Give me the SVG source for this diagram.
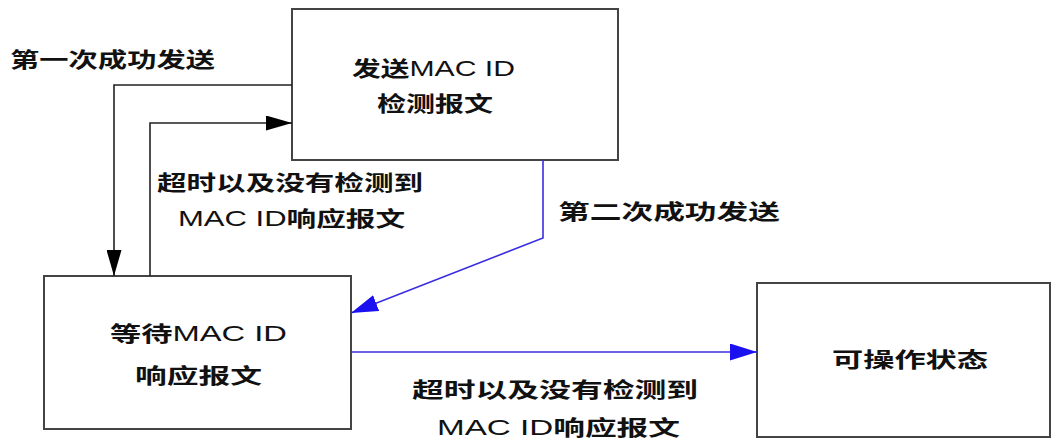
<svg xmlns="http://www.w3.org/2000/svg" width="1054" height="443" viewBox="0 0 1054 443">
<style>
.box{fill:#fff;stroke:#444;stroke-width:2}
.t{font-family:"Liberation Sans","Noto Sans CJK SC",sans-serif;font-size:21px;fill:#111;font-weight:bold}
.m{font-weight:normal;font-size:22px}
.k{fill:none;stroke:#222;stroke-width:1.6}
.b{fill:none;stroke:#3a2ee0;stroke-width:1.6}
</style>
<defs>
<marker id="ak" markerUnits="userSpaceOnUse" markerWidth="26" markerHeight="15" refX="26" refY="7.5" orient="auto"><path d="M0,0 L26,7.5 L0,15 Z" fill="#000"/></marker>
<marker id="ab" markerUnits="userSpaceOnUse" markerWidth="27" markerHeight="17" refX="27" refY="8.5" orient="auto"><path d="M0,0 L27,8.5 L0,17 Z" fill="#1a10f0"/></marker>
</defs>
<rect width="1054" height="443" fill="#fff"/>
<g id="send">
<rect class="box" x="292" y="9" width="326" height="151"/>
<text class="t" x="352" y="76" textLength="163" lengthAdjust="spacingAndGlyphs">发送<tspan class="m">MAC ID</tspan></text>
<text class="t" x="377" y="111" textLength="116" lengthAdjust="spacingAndGlyphs">检测报文</text>
</g>
<g id="wait">
<rect class="box" x="44" y="276" width="307" height="153"/>
<text class="t" x="110" y="341" textLength="177" lengthAdjust="spacingAndGlyphs">等待<tspan class="m">MAC ID</tspan></text>
<text class="t" x="135" y="383" textLength="127" lengthAdjust="spacingAndGlyphs">响应报文</text>
</g>
<g id="operate">
<rect class="box" x="757" y="283" width="293" height="154"/>
<text class="t" x="832" y="367" textLength="156" lengthAdjust="spacingAndGlyphs">可操作状态</text>
</g>
<g id="connectors">
<path class="k" d="M292,85 H114 V276" marker-end="url(#ak)"/>
<path class="k" d="M150,276 V123 H292" marker-end="url(#ak)"/>
<path class="b" d="M543,160 V238 L351,313" marker-end="url(#ab)"/>
<path class="b" d="M351,352 H757" marker-end="url(#ab)"/>
</g>
<g id="labels">
<text class="t" x="10" y="67" textLength="205" lengthAdjust="spacingAndGlyphs">第一次成功发送</text>
<text class="t" x="157" y="190" textLength="266" lengthAdjust="spacingAndGlyphs">超时以及没有检测到</text>
<text class="t" x="178" y="226" textLength="227" lengthAdjust="spacingAndGlyphs"><tspan class="m">MAC ID</tspan>响应报文</text>
<text class="t" x="558" y="219" textLength="222" lengthAdjust="spacingAndGlyphs">第二次成功发送</text>
<text class="t" x="412" y="397" textLength="286" lengthAdjust="spacingAndGlyphs">超时以及没有检测到</text>
<text class="t" x="437" y="435" textLength="243" lengthAdjust="spacingAndGlyphs"><tspan class="m">MAC ID</tspan>响应报文</text>
</g>
</svg>
